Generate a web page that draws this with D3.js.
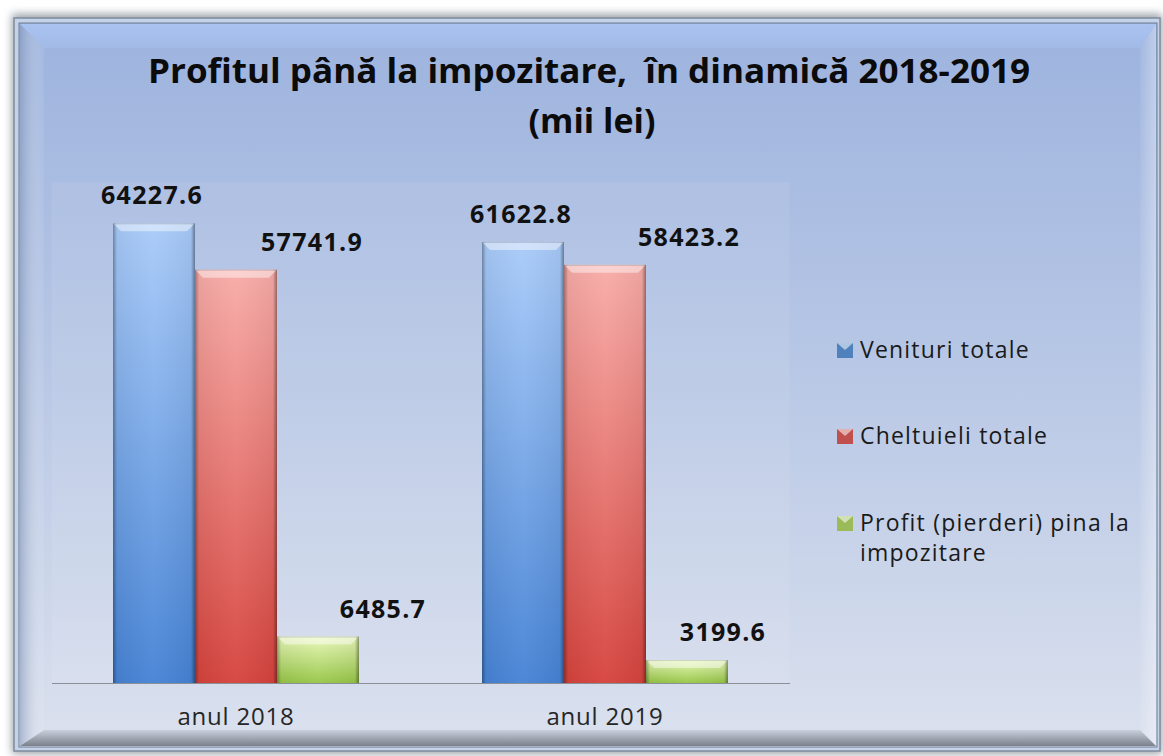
<!DOCTYPE html>
<html>
<head>
<meta charset="utf-8">
<script src="https://cdn.jsdelivr.net/npm/d3@7"></script>
<style>
  body { margin: 0; background: #fff; }
  svg { display: block; font-family: "Open Sans", "Noto Sans", sans-serif; }
</style>
</head>
<body>
<svg id="chart" width="1163" height="756"></svg>
<script>
// chart data
const years = ["anul 2018", "anul 2019"];
const series = ["Venituri totale", "Cheltuieli totale", "Profit (pierderi) pina la impozitare"];
const venituri = [64227.6, 61622.8];
const cheltuieli = [57741.9, 58423.2];
const profit = [6485.7, 3199.6];
const titleLines = ["Profitul până la impozitare,\u00a0 în dinamică 2018-2019", "(mii lei)"];

// bar palette: [top, bottom]
const palette = [["#a9cbf9", "#4683d5"], ["#f8aca8", "#d6433d"], ["#e8f8b8", "#97c647"]];
const markerColors = ["#4f81bd", "#c0504d", "#9bbb59"];
// manual horizontal nudges of the value labels, as in the original
const labelNudge = [[-2, 76, 65], [-2, 84, 36]];

const svg = d3.select("#chart");
const defs = svg.append("defs");

// ---------- frame ----------
const bg = defs.append("linearGradient").attr("id", "bg").attr("x1", 0).attr("y1", 0).attr("x2", 0).attr("y2", 1);
bg.append("stop").attr("offset", "0%").attr("stop-color", "#9db3de");
bg.append("stop").attr("offset", "45%").attr("stop-color", "#b6c6e5");
bg.append("stop").attr("offset", "100%").attr("stop-color", "#dbe1ee");

const shadow = defs.append("filter").attr("id", "shadow").attr("x", "-5%").attr("y", "-5%").attr("width", "110%").attr("height", "110%");
shadow.append("feGaussianBlur").attr("stdDeviation", 4);

svg.append("rect").attr("x", 12).attr("y", 14).attr("width", 1150).attr("height", 740)
  .attr("fill", "#9aa0a8").attr("filter", "url(#shadow)");
svg.append("rect").attr("x", 14).attr("y", 18).attr("width", 1146).attr("height", 733)
  .attr("fill", "#c5d3ea").attr("stroke", "#7f8c9c").attr("stroke-width", 1.5);
svg.append("rect").attr("x", 19).attr("y", 23).attr("width", 1138).attr("height", 724)
  .attr("fill", "url(#bg)").attr("stroke", "#6f7d90").attr("stroke-width", 1);

// bevel edges
const L = 20, T = 24, R = 1156, B = 746, iL = 44, iT = 48, iR = 1140, iB = 730;
const bevTop = defs.append("linearGradient").attr("id", "bevTop").attr("x1", 0).attr("y1", 0).attr("x2", 0).attr("y2", 1);
bevTop.append("stop").attr("offset", "0%").attr("stop-color", "#a9c3f2");
bevTop.append("stop").attr("offset", "100%").attr("stop-color", "#a2bae6");
const bevBot = defs.append("linearGradient").attr("id", "bevBot").attr("x1", 0).attr("y1", 0).attr("x2", 0).attr("y2", 1);
bevBot.append("stop").attr("offset", "0%").attr("stop-color", "#c9cfdb");
bevBot.append("stop").attr("offset", "100%").attr("stop-color", "#7a808c");
const bevLeft = defs.append("linearGradient").attr("id", "bevLeft").attr("x1", 0).attr("y1", 0).attr("x2", 1).attr("y2", 0);
bevLeft.append("stop").attr("offset", "0%").attr("stop-color", "#7f93b6").attr("stop-opacity", 0.55);
bevLeft.append("stop").attr("offset", "100%").attr("stop-color", "#ffffff").attr("stop-opacity", 0.05);
const bevRight = defs.append("linearGradient").attr("id", "bevRight").attr("x1", 0).attr("y1", 0).attr("x2", 1).attr("y2", 0);
bevRight.append("stop").attr("offset", "0%").attr("stop-color", "#ffffff").attr("stop-opacity", 0.05);
bevRight.append("stop").attr("offset", "100%").attr("stop-color", "#ffffff").attr("stop-opacity", 0.35);

const poly = pts => pts.map(p => p.join(",")).join(" ");
svg.append("polygon").attr("points", poly([[L, T], [R, T], [iR, iT], [iL, iT]])).attr("fill", "url(#bevTop)");
svg.append("polygon").attr("points", poly([[L, T], [iL, iT], [iL, iB], [L, B]])).attr("fill", "url(#bevLeft)");
svg.append("polygon").attr("points", poly([[R, T], [R, B], [iR, iB], [iR, iT]])).attr("fill", "url(#bevRight)");
svg.append("polygon").attr("points", poly([[L, B], [iL, iB], [iR, iB], [R, B]])).attr("fill", "url(#bevBot)");

// ---------- title ----------
const title = svg.append("g").attr("font-weight", 700).attr("fill", "#0b0b0b").attr("text-anchor", "middle");
title.append("text").attr("x", 589).attr("y", 83).attr("font-size", 34)
  .attr("textLength", 882).attr("lengthAdjust", "spacingAndGlyphs").text(titleLines[0]);
title.append("text").attr("x", 592).attr("y", 133).attr("font-size", 34).text(titleLines[1]);

// ---------- scales ----------
const plot = { left: 51.5, right: 789.5, top: 182, bottom: 683 };
const x0 = d3.scaleBand().domain(years).range([plot.left, plot.right]).padding(0);
const x1 = d3.scaleBand().domain(series).range([0, x0.bandwidth()]).paddingInner(0).paddingOuter(0.75);
const y = d3.scaleLinear().domain([0, 70000]).range([plot.bottom, plot.top]);

// plot area (slightly lighter)
svg.append("rect").attr("x", plot.left).attr("y", plot.top)
  .attr("width", plot.right - plot.left).attr("height", plot.bottom - plot.top)
  .attr("fill", "#ffffff").attr("opacity", 0.07);

// ---------- bars ----------
palette.forEach((c, i) => {
  const g = defs.append("linearGradient").attr("id", "bar" + i).attr("x1", 0).attr("y1", 0).attr("x2", 0).attr("y2", 1);
  g.append("stop").attr("offset", "0%").attr("stop-color", c[0]);
  g.append("stop").attr("offset", "100%").attr("stop-color", c[1]);
});
const side = defs.append("linearGradient").attr("id", "side").attr("x1", 0).attr("y1", 0).attr("x2", 1).attr("y2", 0);
side.append("stop").attr("offset", "0%").attr("stop-color", "#000").attr("stop-opacity", 0.35);
side.append("stop").attr("offset", "5%").attr("stop-color", "#000").attr("stop-opacity", 0.05);
side.append("stop").attr("offset", "50%").attr("stop-color", "#fff").attr("stop-opacity", 0.04);
side.append("stop").attr("offset", "95%").attr("stop-color", "#000").attr("stop-opacity", 0.05);
side.append("stop").attr("offset", "100%").attr("stop-color", "#000").attr("stop-opacity", 0.4);

const rows = years.map((yr, i) => ({
  year: yr,
  values: [venituri[i], cheltuieli[i], profit[i]].map((v, s) => ({ series: series[s], s, v, nudge: labelNudge[i][s] }))
}));

const groups = svg.selectAll(".grp").data(rows).enter().append("g")
  .attr("class", "grp").attr("transform", d => `translate(${x0(d.year)},0)`);

const bars = groups.selectAll(".bar").data(d => d.values).enter().append("g").attr("class", "bar");
const bw = x1.bandwidth();
bars.append("rect")
  .attr("x", d => x1(d.series)).attr("y", d => y(d.v))
  .attr("width", bw).attr("height", d => y(0) - y(d.v))
  .attr("fill", d => `url(#bar${d.s})`);
bars.append("rect")
  .attr("x", d => x1(d.series)).attr("y", d => y(d.v))
  .attr("width", bw).attr("height", d => y(0) - y(d.v))
  .attr("fill", "url(#side)");
// top bevel
bars.append("polygon")
  .attr("points", d => {
    const xl = x1(d.series), xr = xl + bw, yt = y(d.v), b = Math.min(8, (y(0) - yt) / 2);
    return poly([[xl, yt], [xr, yt], [xr - b, yt + b], [xl + b, yt + b]]);
  })
  .attr("fill", "#ffffff").attr("opacity", 0.45);
bars.append("line")
  .attr("x1", d => x1(d.series)).attr("x2", d => x1(d.series) + bw)
  .attr("y1", d => y(d.v) + 0.5).attr("y2", d => y(d.v) + 0.5)
  .attr("stroke", "#000").attr("stroke-opacity", 0.15);

// value labels
groups.selectAll(".val").data(d => d.values).enter().append("text")
  .attr("class", "val")
  .attr("x", d => x1(d.series) + bw / 2 + d.nudge)
  .attr("y", d => y(d.v) - 19)
  .attr("text-anchor", "middle").attr("font-size", 25).attr("font-weight", 700).attr("fill", "#111")
  .attr("letter-spacing", 1.3)
  .text(d => d3.format(".1f")(d.v));

// ---------- axis ----------
const axis = svg.append("g").attr("transform", `translate(0,${plot.bottom})`)
  .call(d3.axisBottom(x0).tickSize(0).tickPadding(25));
axis.select(".domain").attr("stroke", "#8a8f98").attr("stroke-width", 1.2);
axis.selectAll("text").attr("font-size", 24).attr("fill", "#262626").attr("letter-spacing", 0.8)
  .attr("font-family", "\"Open Sans\", \"Noto Sans\", sans-serif");

// ---------- legend ----------
const legendRows = [
  { lines: [series[0]], y: 350 },
  { lines: [series[1]], y: 436 },
  { lines: ["Profit (pierderi) pina la", "impozitare"], y: 523 }
];
const legend = svg.append("g").attr("transform", "translate(837,0)");
const item = legend.selectAll(".item").data(legendRows).enter().append("g").attr("class", "item")
  .attr("transform", d => `translate(0,${d.y})`);
item.append("rect").attr("x", 0).attr("y", -7).attr("width", 16).attr("height", 15)
  .attr("fill", (d, i) => markerColors[i]);
item.append("polygon").attr("points", poly([[0, -7], [16, -7], [8, 0]]))
  .attr("fill", "#ffffff").attr("opacity", 0.55);
item.append("text").attr("x", 23).attr("font-size", 23).attr("fill", "#1a1a1a").attr("letter-spacing", 1.2)
  .selectAll("tspan").data(d => d.lines).enter().append("tspan")
  .attr("x", 23).attr("dy", (d, i) => i === 0 ? "0.35em" : "1.3em").text(d => d);
</script>
</body>
</html>
